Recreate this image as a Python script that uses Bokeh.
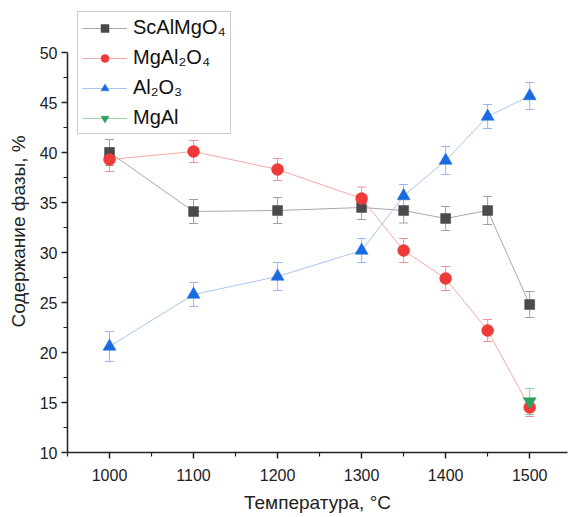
from bokeh.plotting import figure
from bokeh.models import (ColumnDataSource, Whisker, TeeHead, FixedTicker, Legend, LegendItem, Range1d)
from bokeh.embed import file_html
from bokeh.resources import INLINE

# Data
temps = [1000, 1100, 1200, 1300, 1350, 1400, 1450, 1500]
scalmgo4 = [40.0, 34.1, 34.2, 34.5, 34.2, 33.4, 34.2, 24.8]
scalmgo4_err = [1.3, 1.2, 1.3, 1.2, 1.25, 1.2, 1.4, 1.3]
mgal2o4 = [39.3, 40.1, 38.3, 35.4, 30.2, 27.4, 22.2, 14.5]
mgal2o4_err = [1.2, 1.1, 1.1, 1.15, 1.2, 1.2, 1.1, 0.9]
al2o3 = [20.6, 25.8, 27.6, 30.2, 35.65, 39.2, 43.6, 45.65]
al2o3_err = [1.5, 1.2, 1.4, 1.2, 1.15, 1.4, 1.2, 1.35]
mgal_t = [1500]
mgal = [15.1]
mgal_err = [1.3]

x_major = [1000, 1100, 1200, 1300, 1400, 1500]
x_minor = [950, 1050, 1150, 1250, 1350, 1450, 1550]
y_major = [10, 15, 20, 25, 30, 35, 40, 45, 50]
y_minor = [12.5, 17.5, 22.5, 27.5, 32.5, 37.5, 42.5, 47.5]

FONT = "Liberation Sans"

p = figure(width=569, height=517, output_backend="svg", toolbar_location=None,
           x_range=Range1d(950, 1545), y_range=Range1d(10, 54.2),
           min_border_left=67, min_border_right=2, min_border_top=10, min_border_bottom=65)
p.outline_line_color = None
p.xgrid.visible = False
p.ygrid.visible = False

series = [
    ("ScAlMgO₄", temps, scalmgo4, scalmgo4_err, "square", "#4a4a4a", "#a8a8a8", "#a0a0a0", 10),
    ("MgAl₂O₄", temps, mgal2o4, mgal2o4_err, "circle", "#f03a3a", "#f5a8a8", "#f29090", 12),
    ("Al₂O₃", temps, al2o3, al2o3_err, "triangle", "#1a6be0", "#a9c6f0", "#95b9ee", 13),
    ("MgAl", mgal_t, mgal, mgal_err, "inverted_triangle", "#2ea05c", "#9ad6a8", "#88d09c", 13),
]

items = []
for name, xs, ys, es, marker, mcol, lcol, ecol, size in series:
    src = ColumnDataSource(dict(x=xs, y=ys,
                                lo=[a - b for a, b in zip(ys, es)],
                                hi=[a + b for a, b in zip(ys, es)]))
    ln = p.line("x", "y", source=src, line_color=lcol, line_width=1)
    w = Whisker(base="x", lower="lo", upper="hi", source=src, line_color=ecol, line_width=1,
                upper_head=TeeHead(size=9, line_color=ecol, line_width=1),
                lower_head=TeeHead(size=9, line_color=ecol, line_width=1))
    p.add_layout(w)
    sc = p.scatter("x", "y", source=src, marker=marker, size=size,
                   fill_color=mcol, line_color=mcol, line_width=0.5)
    items.append(LegendItem(label=name, renderers=[ln, sc]))

legend = Legend(items=items, location=(10, 318), label_text_font=FONT,
                label_text_font_size="20px", label_text_color="#111111",
                glyph_width=45, glyph_height=20, label_height=22, spacing=7,
                padding=4, margin=0, label_standoff=6,
                border_line_color="#9a9a9a", border_line_width=1,
                background_fill_color="white", background_fill_alpha=1)
p.add_layout(legend, "center")

for ax in (p.xaxis[0], p.yaxis[0]):
    ax.axis_line_width = 1.5
    ax.axis_line_color = "#222222"
    ax.major_tick_line_width = 1.5
    ax.minor_tick_line_width = 1.2
    ax.major_tick_line_color = "#222222"
    ax.minor_tick_line_color = "#222222"
    ax.major_tick_in = 0
    ax.major_tick_out = 6
    ax.minor_tick_in = 0
    ax.minor_tick_out = 4
    ax.major_label_text_font = FONT
    ax.major_label_text_font_size = "16px"
    ax.major_label_text_color = "#222222"
    ax.axis_label_text_font = FONT
    ax.axis_label_text_font_size = "19px"
    ax.axis_label_text_font_style = "normal"
    ax.axis_label_text_color = "#222222"

p.yaxis.bounds = (10, 50)
p.xaxis.ticker = FixedTicker(ticks=x_major, minor_ticks=x_minor)
p.yaxis.ticker = FixedTicker(ticks=y_major, minor_ticks=y_minor)
p.xaxis.axis_label = "Температура, °C"
p.yaxis.axis_label = "Содержание фазы, %"
p.xaxis.major_label_standoff = 10
p.xaxis.axis_label_standoff = 8
p.yaxis.major_label_standoff = 4
p.yaxis.axis_label_standoff = 8

open("out.html", "w").write(file_html(p, INLINE))
